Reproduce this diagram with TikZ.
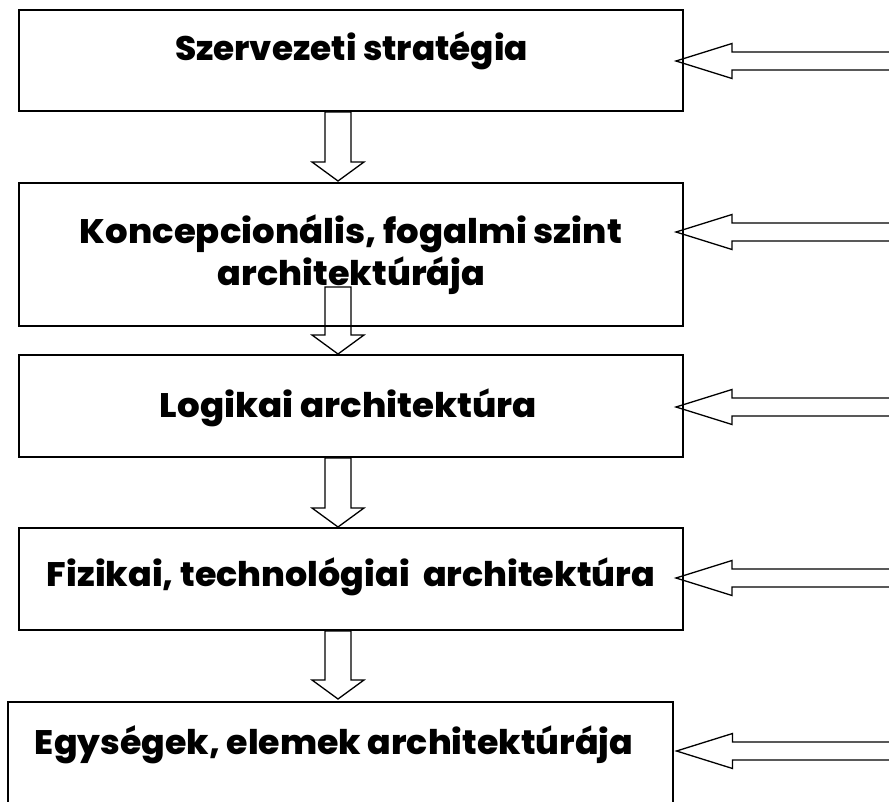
\documentclass[tikz,border=0pt]{standalone}
\usepackage{fontspec}
\setmainfont{Poppins}[BoldFont={Poppins ExtraBold}]
\usetikzlibrary{calc}

% stretch a line of text to a given width, keeping its height
\newcommand\fitw[2]{\resizebox{#1}{\height}{#2}}

% hollow block arrow pointing down, from shaft top (#1) to tip (#2)
\newcommand\flowdown[2]{%
  \draw[hollow] let \p1=(#1), \p2=(#2) in
    (\x1-13pt,\y1) -- (\x1-13pt,\y2+19pt) -- (\x1-26pt,\y2+19pt) -- (\x2,\y2)
    -- (\x1+26pt,\y2+19pt) -- (\x1+13pt,\y2+19pt) -- (\x1+13pt,\y1) -- cycle;}

% hollow block arrow pointing left, tip (#1), shaft running out to (#2)
\newcommand\flowleft[2]{%
  \draw[hollow] let \p1=(#1), \p2=(#2) in
    (\x1,\y1) -- (\x1+56pt,\y1+17.5pt) -- (\x1+56pt,\y1+9pt) -- (\x2,\y1+9pt)
    -- (\x2,\y1-9pt) -- (\x1+56pt,\y1-9pt) -- (\x1+56pt,\y1-17.5pt) -- cycle;}

\tikzset{
  stage/.style={draw, line width=2pt, minimum width=664pt, inner sep=0pt},
  caption/.style={anchor=base, inner sep=0pt,
    font=\fontsize{34}{34}\selectfont\bfseries},
  hollow/.style={draw, line width=1.3pt, line join=miter},
}

\begin{document}
\begin{tikzpicture}[x=1pt, y=-1pt]
\useasboundingbox (0,0) rectangle (889,802);
\clip (0,0) rectangle (889,802);

% the five levels
\node[stage, minimum height=101pt] (b1) at (351,60.5) {};
\node[stage, minimum height=143pt] (b2) at (351,254.5) {};
\node[stage, minimum height=102pt] (b3) at (351,406) {};
\node[stage, minimum height=102pt] (b4) at (351,579) {};
\node[stage, minimum width=665pt, minimum height=140pt] (b5) at (340.5,772) {};

% captions
\node[caption] (t1)  at (351.5,61) {\fitw{353pt}{Szervezeti stratégia}};
\node[caption] (t2a) at (351,244)  {\fitw{542pt}{Koncepcionális, fogalmi szint}};
\node[caption] (t2b) at (351.5,286){\fitw{267pt}{architektúrája}};
\node[caption] (t3)  at (348.5,417){\fitw{377pt}{Logikai architektúra}};
\node[caption] (t4)  at (351,586)  {\fitw{608pt}{Fizikai, technológiai~ architektúra}};
\node[caption] (t5)  at (334,754)  {\fitw{598pt}{Egységek, elemek architektúrája}};

% downward links between levels
\coordinate (d1) at ($(b1.south)+(-13,0)$);
\coordinate (d2) at (338,287);
\coordinate (d3) at ($(b3.south)+(-13,0)$);
\coordinate (d4) at ($(b4.south)+(-13,0)$);
\flowdown{d1}{$(d1 |- b2.north)+(0,-1)$}
\flowdown{d2}{d2 |- b3.north}
\flowdown{d3}{d3 |- b4.north}
\flowdown{d4}{$(d4 |- b5.north)+(0,-2)$}

% inputs from the right, their shafts running past the edge
\coordinate (edge) at (895,0);
\coordinate (r1) at ($(b1.east)+(-8,0.5)$);
\coordinate (r2) at ($(b2.east)+(-8,-22.5)$);
\coordinate (r3) at ($(b3.east)+(-8,1)$);
\coordinate (r4) at ($(b4.east)+(-8,-1)$);
\coordinate (r5) at ($(b5.east)+(2.5,-21)$);
\foreach \i in {1,...,5} {
  \coordinate (s\i) at (r\i -| edge);
  \flowleft{r\i}{s\i}
}
\end{tikzpicture}
\end{document}
